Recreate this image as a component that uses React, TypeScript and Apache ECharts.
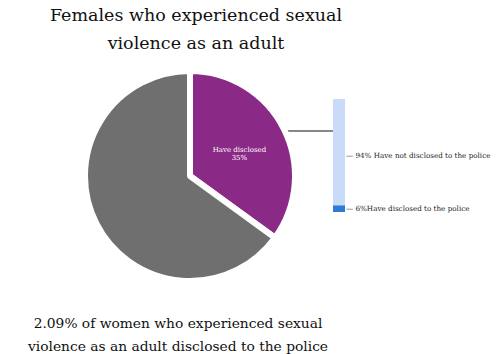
import React, { useEffect, useRef } from "react";
import * as echarts from "echarts";

const pieNames = ["Have disclosed", "Have not disclosed"];
const pieValues = [35, 65];
const barNames = ["Have disclosed to the police", "Have not disclosed to the police"];
const barValues = [6, 94];
const titleText = "Females who experienced sexual\nviolence as an adult";
const footText = "2.09% of women who experienced sexual\nviolence as an adult disclosed to the police";

export default function App() {
  const ref = useRef<HTMLDivElement>(null);
  useEffect(() => {
    document.body.style.margin = "0";
    const chart = echarts.init(ref.current!, null, { renderer: "svg" });
    const font = "DejaVu Serif";
    chart.setOption({
      animation: false,
      backgroundColor: "#ffffff",
      title: [
        {
          text: titleText,
          left: 196,
          top: 1,
          padding: 0,
          textAlign: "center",
          textStyle: { fontFamily: font, fontSize: 17.5, fontWeight: "normal", color: "#111", lineHeight: 28 },
        },
        {
          text: footText,
          left: 178,
          top: 311,
          padding: 0,
          textAlign: "center",
          textStyle: { fontFamily: font, fontSize: 13.8, fontWeight: "normal", color: "#111", lineHeight: 23 },
        },
      ],
      grid: { left: 333, top: 99, width: 12, height: 113 },
      xAxis: { type: "category", data: ["x"], show: false },
      yAxis: { type: "value", min: 0, max: 100, show: false },
      series: [
        {
          type: "pie",
          center: [190, 176],
          radius: 105,
          startAngle: 90,
          clockwise: true,
          label: {
            position: "inside",
            color: "#fff",
            fontFamily: font,
            fontSize: 7,
            lineHeight: 8,
            offset: [0, 3],
            formatter: (p: any) => (p.dataIndex === 0 ? `${p.name}\n${p.value}%` : ""),
          },
          labelLine: { show: false },
          itemStyle: { borderColor: "#fff", borderWidth: 6 },
          data: pieNames.map((n, i) => ({
            name: n,
            value: pieValues[i],
            itemStyle: { color: i === 0 ? "#8b2a86" : "#6e6f6e" },
          })),
        },
        ...barNames.map((n, i) => ({
          type: "bar",
          name: n,
          stack: "s",
          barWidth: 12,
          data: [barValues[i]],
          itemStyle: { color: i === 0 ? "#2e7bd6" : "#c8dcfa" },
          label: {
            show: true,
            position: "right",
            distance: 1,
            offset: i === 0 ? [0, 0] : [0, 3],
            color: "#222222",
            textBorderWidth: 0,
            fontFamily: font,
            fontSize: 7.2,
            formatter: i === 0 ? `— ${barValues[i]}%${n}` : `— ${barValues[i]}% ${n}`,
          },
        })),
      ],
      graphic: [
        {
          type: "line",
          shape: { x1: 283, y1: 131, x2: 333, y2: 131 },
          style: { stroke: "#111", lineWidth: 1.2 },
        },
      ],
    });
    return () => chart.dispose();
  }, []);
  return <div ref={ref} style={{ width: 500, height: 354, position: "absolute", left: 0, top: 0 }} />;
}
